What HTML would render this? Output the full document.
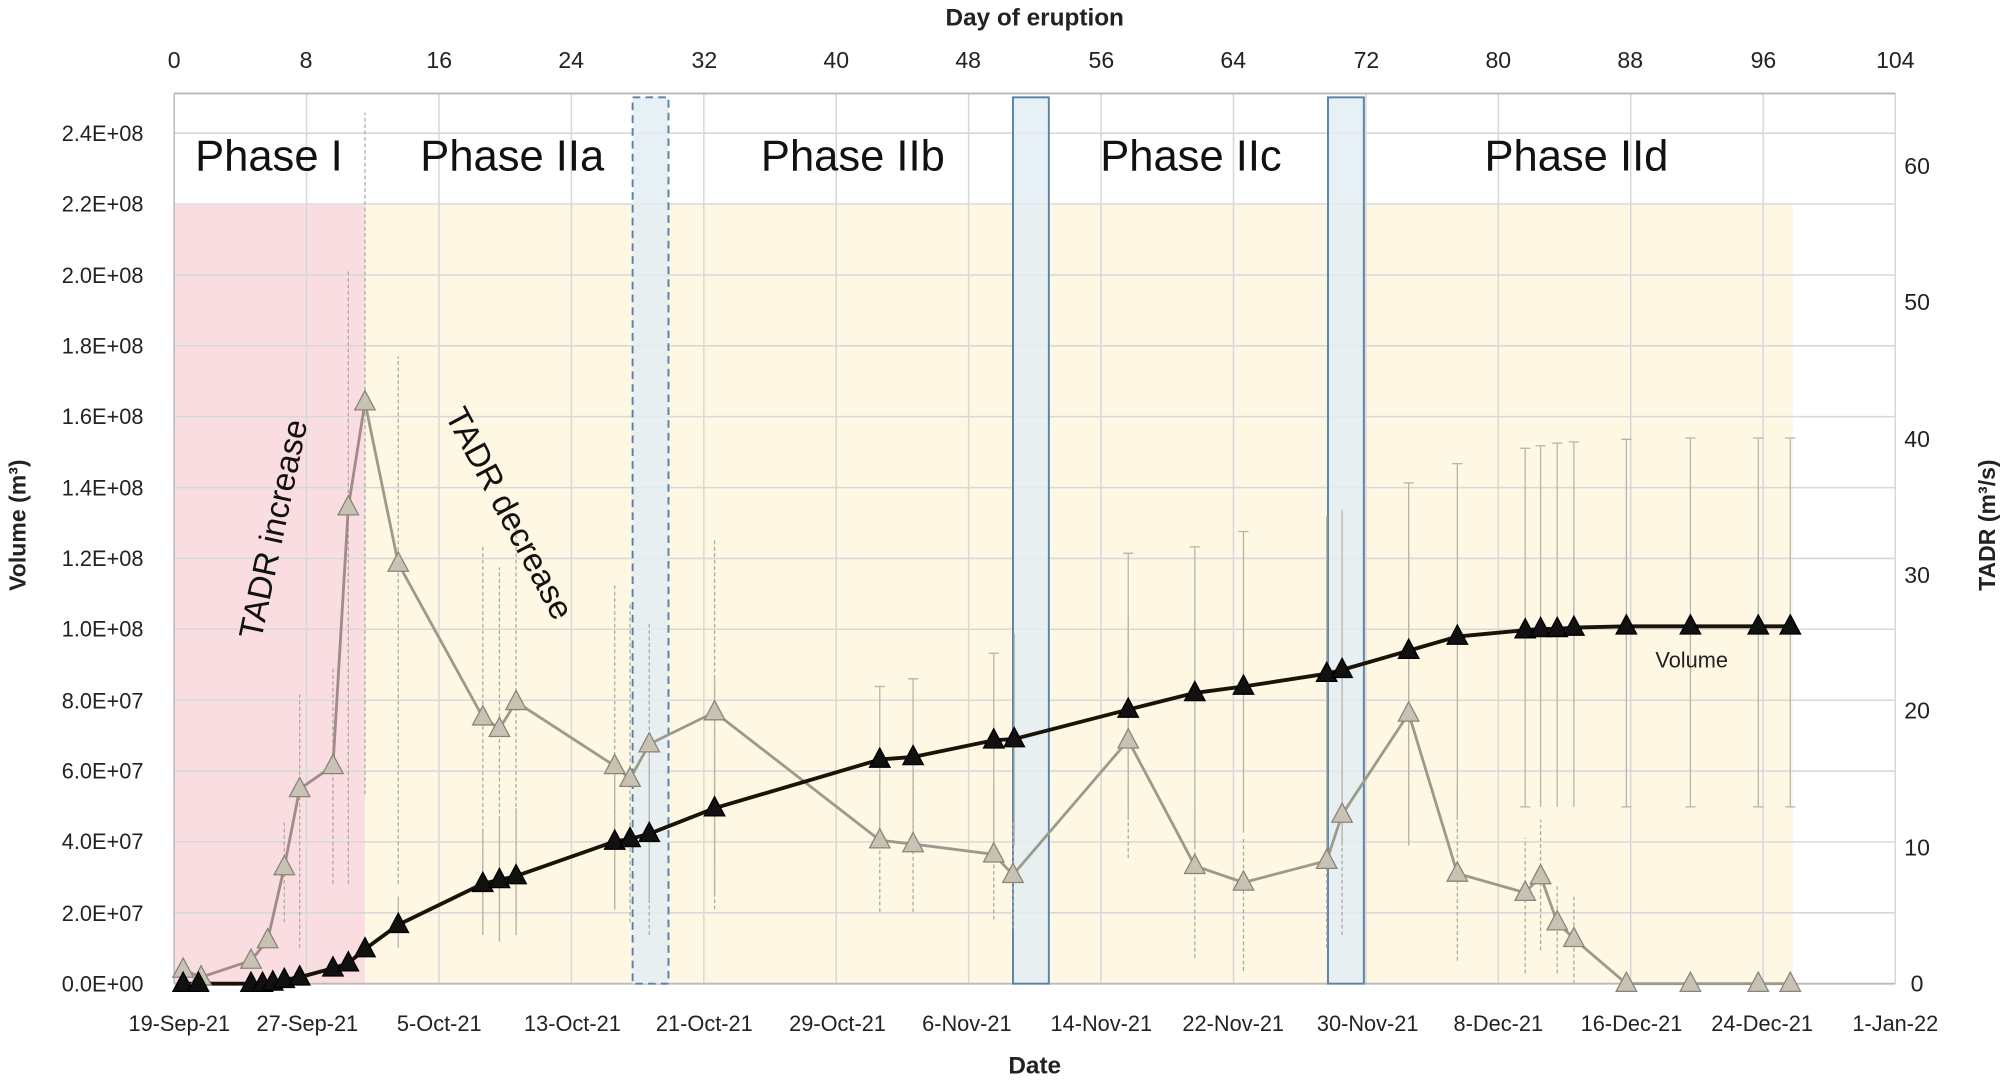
<!DOCTYPE html>
<html><head><meta charset="utf-8"><style>
html,body{margin:0;padding:0;background:#fff}
svg{display:block}
text{font-family:"Liberation Sans",sans-serif}
</style></head><body>
<svg width="2008" height="1081" viewBox="0 0 1568 844" preserveAspectRatio="none" xmlns="http://www.w3.org/2000/svg">
<rect width="1568" height="844" fill="#fff"/>
<rect x="136" y="160" width="149" height="608" fill="#fadde0"/>
<rect x="285" y="160" width="1115" height="608" fill="#fdf7e3"/>
<g stroke="#d8d8d8" stroke-width="1.2">
<line x1="136" y1="104.0" x2="1480" y2="104.0"/><line x1="136" y1="159.3" x2="1480" y2="159.3"/><line x1="136" y1="214.7" x2="1480" y2="214.7"/><line x1="136" y1="270.0" x2="1480" y2="270.0"/><line x1="136" y1="325.3" x2="1480" y2="325.3"/><line x1="136" y1="380.7" x2="1480" y2="380.7"/><line x1="136" y1="436.0" x2="1480" y2="436.0"/><line x1="136" y1="491.3" x2="1480" y2="491.3"/><line x1="136" y1="546.7" x2="1480" y2="546.7"/><line x1="136" y1="602.0" x2="1480" y2="602.0"/><line x1="136" y1="657.3" x2="1480" y2="657.3"/><line x1="136" y1="712.7" x2="1480" y2="712.7"/>
<line x1="239.4" y1="73" x2="239.4" y2="768"/><line x1="342.8" y1="73" x2="342.8" y2="768"/><line x1="446.2" y1="73" x2="446.2" y2="768"/><line x1="549.6" y1="73" x2="549.6" y2="768"/><line x1="653" y1="73" x2="653" y2="768"/><line x1="756.4" y1="73" x2="756.4" y2="768"/><line x1="859.8" y1="73" x2="859.8" y2="768"/><line x1="963.2" y1="73" x2="963.2" y2="768"/><line x1="1066.6" y1="73" x2="1066.6" y2="768"/><line x1="1170" y1="73" x2="1170" y2="768"/><line x1="1273.4" y1="73" x2="1273.4" y2="768"/><line x1="1376.8" y1="73" x2="1376.8" y2="768"/><line x1="1480" y1="73" x2="1480" y2="768"/>
</g>
<line x1="136" y1="73" x2="1480" y2="73" stroke="#bbb" stroke-width="1.5"/>
<line x1="136" y1="73" x2="136" y2="768" stroke="#bbb" stroke-width="1.2"/>
<line x1="136" y1="768" x2="1480" y2="768" stroke="#bbb" stroke-width="1.5"/>
<rect x="494" y="76" width="28" height="692" fill="#e3edf3" fill-opacity="0.85" stroke="#5a82a8" stroke-width="1.5" stroke-dasharray="6,4"/>
<rect x="791" y="76" width="28" height="692" fill="#e3edf3" fill-opacity="0.85" stroke="#5a82a8" stroke-width="1.5"/>
<rect x="1037" y="76" width="28" height="692" fill="#e3edf3" fill-opacity="0.85" stroke="#5a82a8" stroke-width="1.5"/>
<g stroke="#aaa" stroke-width="1" stroke-dasharray="3,2" fill="none">
<path d="M222 720V640M234 740V540M260 690V520M272 690V210M285 620V88M311 690V278M377 730V426M390 735V443M403 730V402M480 710V457M492 720V470M507 730V487M558 710V421M687 712V600M713 712V600M776 718V612M791 725V640M881 670V480M933 748V628M971 758V655M1036 740V612M1048 730V560M1100 660V430M1138 750V614M1191 760V654M1203 742V640M1216 760V690M1229 768V700"/>
</g>
<g stroke="#b5b5a8" stroke-width="1" fill="none">
<path d="M311 740V700M377 730V650M390 735V640M403 727V631M480 710V595M507 705V590M558 700V530M687 660V536M713 658V530M776 660V510M792 660V495M881 640V432M933 660V427M971 650V415M1036 665V403M1048 660V398M1100 660V377M1138 640V362M1191 630V350M1203 630V348M1216 630V346M1229 630V345M1270 630V343M1320 630V342M1373 630V342M1398 630V342"/>
<path d="M1187 350h8M1199 348h8M1212 346h8M1225 345h8M1266 343h8M1316 342h8M1369 342h8M1394 342h8M1187 630h8M1266 630h8M1316 630h8M1369 630h8M1394 630h8M1096 377h8M1134 362h8M877 432h8M929 427h8M967 415h8M683 536h8M709 530h8M772 510h8"/>
</g>
<polyline fill="none" stroke="#a08a8a" stroke-width="2.2" points="143,757 157,763 196,750 209,734 222,677 234,616 260,598 272,396 285,314"/>
<polyline fill="none" stroke="#9b9b8c" stroke-width="2.2" points="285,314 311,440 377,560 390,569 403,548 480,598 492,608 507,581 558,556 687,656 713,659 776,667 791,683 881,578 933,676 971,689 1036,672 1048,636 1100,557 1138,682 1191,697 1203,684 1216,720 1229,733 1270,768 1320,768 1373,768 1398,768"/>
<polyline fill="none" stroke="#1a1408" stroke-width="3" points="143,768 155,768 196,768 205,768 213,767 222,765 234,763 260,756 272,752 285,741 311,722 377,690 390,687 403,684 480,657 492,655 507,651 558,631 687,593 713,591 776,578 792,577 881,554 933,541 971,536 1036,526 1048,523 1100,508 1138,497 1191,492 1203,491 1216,491 1229,490 1270,489 1320,489 1373,489 1398,489"/>
<defs>
<path id="t" d="M0,-9 L8,6 L-8,6 Z"/>
</defs>
<g fill="#c8c2b5" stroke="#8a8478" stroke-width="1">
<use href="#t" x="143" y="757"/><use href="#t" x="157" y="763"/><use href="#t" x="196" y="750"/><use href="#t" x="209" y="734"/><use href="#t" x="222" y="677"/><use href="#t" x="234" y="616"/><use href="#t" x="260" y="598"/><use href="#t" x="272" y="396"/><use href="#t" x="285" y="314"/><use href="#t" x="311" y="440"/><use href="#t" x="377" y="560"/><use href="#t" x="390" y="569"/><use href="#t" x="403" y="548"/><use href="#t" x="480" y="598"/><use href="#t" x="492" y="608"/><use href="#t" x="507" y="581"/><use href="#t" x="558" y="556"/><use href="#t" x="687" y="656"/><use href="#t" x="713" y="659"/><use href="#t" x="776" y="667"/><use href="#t" x="791" y="683"/><use href="#t" x="881" y="578"/><use href="#t" x="933" y="676"/><use href="#t" x="971" y="689"/><use href="#t" x="1036" y="672"/><use href="#t" x="1048" y="636"/><use href="#t" x="1100" y="557"/><use href="#t" x="1138" y="682"/><use href="#t" x="1191" y="697"/><use href="#t" x="1203" y="684"/><use href="#t" x="1216" y="720"/><use href="#t" x="1229" y="733"/><use href="#t" x="1270" y="768"/><use href="#t" x="1320" y="768"/><use href="#t" x="1373" y="768"/><use href="#t" x="1398" y="768"/>
</g>
<g fill="#111" stroke="#000" stroke-width="1">
<use href="#t" x="143" y="768"/><use href="#t" x="155" y="768"/><use href="#t" x="196" y="768"/><use href="#t" x="205" y="768"/><use href="#t" x="213" y="767"/><use href="#t" x="222" y="765"/><use href="#t" x="234" y="763"/><use href="#t" x="260" y="756"/><use href="#t" x="272" y="752"/><use href="#t" x="285" y="741"/><use href="#t" x="311" y="722"/><use href="#t" x="377" y="690"/><use href="#t" x="390" y="687"/><use href="#t" x="403" y="684"/><use href="#t" x="480" y="657"/><use href="#t" x="492" y="655"/><use href="#t" x="507" y="651"/><use href="#t" x="558" y="631"/><use href="#t" x="687" y="593"/><use href="#t" x="713" y="591"/><use href="#t" x="776" y="578"/><use href="#t" x="792" y="577"/><use href="#t" x="881" y="554"/><use href="#t" x="933" y="541"/><use href="#t" x="971" y="536"/><use href="#t" x="1036" y="526"/><use href="#t" x="1048" y="523"/><use href="#t" x="1100" y="508"/><use href="#t" x="1138" y="497"/><use href="#t" x="1191" y="492"/><use href="#t" x="1203" y="491"/><use href="#t" x="1216" y="491"/><use href="#t" x="1229" y="490"/><use href="#t" x="1270" y="489"/><use href="#t" x="1320" y="489"/><use href="#t" x="1373" y="489"/><use href="#t" x="1398" y="489"/>
</g>
<g font-size="34" fill="#111" text-anchor="middle">
<text x="210" y="133">Phase I</text>
<text x="400" y="133">Phase IIa</text>
<text x="666" y="133">Phase IIb</text>
<text x="930" y="133">Phase IIc</text>
<text x="1231" y="133">Phase IId</text>
</g>
<text x="0" y="0" font-size="26" fill="#111" text-anchor="middle" transform="translate(222,415) rotate(-78)">TADR increase</text>
<text x="0" y="0" font-size="26" fill="#111" text-anchor="middle" transform="translate(390,405) rotate(62)">TADR decrease</text>
<text x="1321" y="521" font-size="17" fill="#222" text-anchor="middle">Volume</text>
<g font-size="17" fill="#222" text-anchor="end">
<text x="112" y="110">2.4E+08</text><text x="112" y="165">2.2E+08</text><text x="112" y="221">2.0E+08</text><text x="112" y="276">1.8E+08</text><text x="112" y="331">1.6E+08</text><text x="112" y="387">1.4E+08</text><text x="112" y="442">1.2E+08</text><text x="112" y="497">1.0E+08</text><text x="112" y="553">8.0E+07</text><text x="112" y="608">6.0E+07</text><text x="112" y="663">4.0E+07</text><text x="112" y="719">2.0E+07</text><text x="112" y="774">0.0E+00</text>
</g>
<g font-size="18" fill="#222" text-anchor="middle">
<text x="1497" y="136">60</text><text x="1497" y="242">50</text><text x="1497" y="349">40</text><text x="1497" y="455">30</text><text x="1497" y="561">20</text><text x="1497" y="668">10</text><text x="1497" y="774">0</text>
</g>
<g font-size="18" fill="#222" text-anchor="middle">
<text x="136" y="53">0</text><text x="239" y="53">8</text><text x="343" y="53">16</text><text x="446" y="53">24</text><text x="550" y="53">32</text><text x="653" y="53">40</text><text x="756" y="53">48</text><text x="860" y="53">56</text><text x="963" y="53">64</text><text x="1067" y="53">72</text><text x="1170" y="53">80</text><text x="1273" y="53">88</text><text x="1377" y="53">96</text><text x="1480" y="53">104</text>
</g>
<text x="808" y="20" font-size="19" font-weight="bold" fill="#222" text-anchor="middle">Day of eruption</text>
<g font-size="17" fill="#222" text-anchor="middle">
<text x="140" y="805">19-Sep-21</text><text x="240" y="805">27-Sep-21</text><text x="343" y="805">5-Oct-21</text><text x="447" y="805">13-Oct-21</text><text x="550" y="805">21-Oct-21</text><text x="654" y="805">29-Oct-21</text><text x="755" y="805">6-Nov-21</text><text x="860" y="805">14-Nov-21</text><text x="963" y="805">22-Nov-21</text><text x="1068" y="805">30-Nov-21</text><text x="1170" y="805">8-Dec-21</text><text x="1274" y="805">16-Dec-21</text><text x="1376" y="805">24-Dec-21</text><text x="1480" y="805">1-Jan-22</text>
</g>
<text x="808" y="838" font-size="19" font-weight="bold" fill="#222" text-anchor="middle">Date</text>
<text x="0" y="0" font-size="18" font-weight="bold" fill="#222" text-anchor="middle" transform="translate(20,410) rotate(-90)">Volume (m³)</text>
<text x="0" y="0" font-size="18" font-weight="bold" fill="#222" text-anchor="middle" transform="translate(1558,410) rotate(-90)">TADR (m³/s)</text>
</svg>
</body></html>
